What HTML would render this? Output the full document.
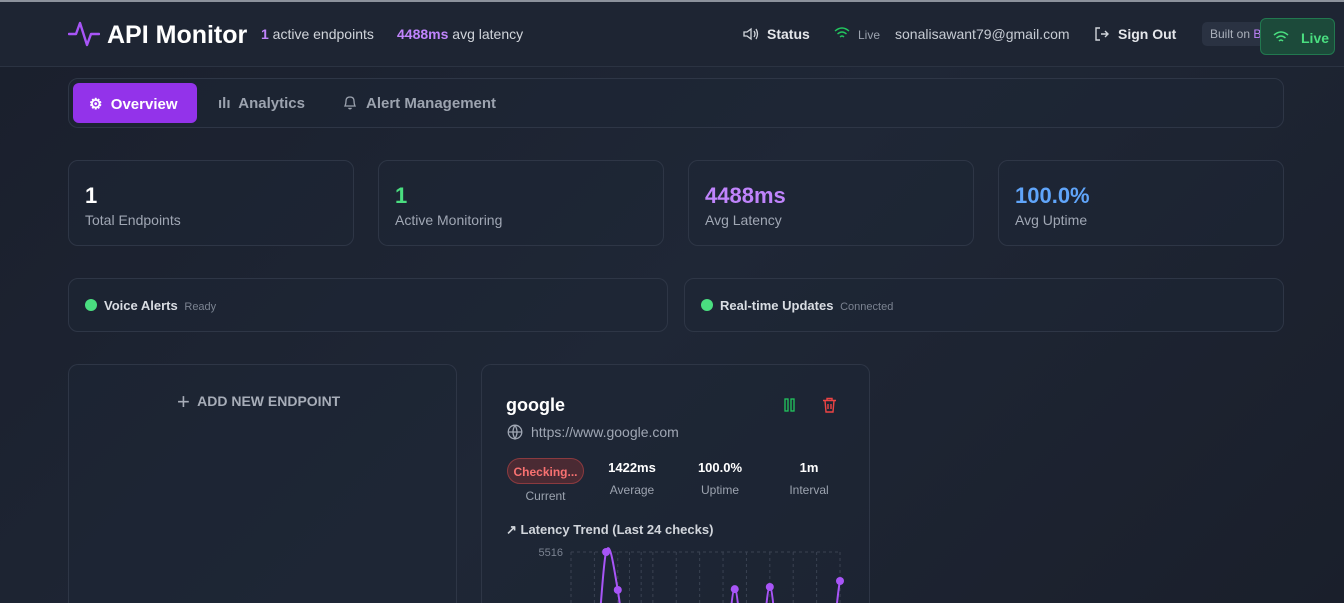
<!DOCTYPE html>
<html><head><meta charset="utf-8"><style>
*{box-sizing:border-box;margin:0;padding:0}
html{width:1344px;height:603px;overflow:hidden}
body{width:1344px;height:603px;overflow:hidden;position:relative;font-family:"Liberation Sans",sans-serif;background:linear-gradient(135deg,#1a1f2c 0%,#1f2736 50%,#1a1f2b 100%);color:#e5e7eb}
.a{position:absolute}
.card{position:absolute;border:1px solid #2e3646;border-radius:10px;background:rgba(30,38,52,0.55)}
.open{border-bottom:none;border-radius:10px 10px 0 0}
.big{font-size:22px;font-weight:bold}
.lbl{font-size:14px;color:#a0a7b4}
</style></head><body>
<div class="a" style="left:0;top:0;width:1344px;height:2px;background:#8c929c"></div>
<div class="a" style="left:0;top:2px;width:1344px;height:65px;background:#1e2533;border-bottom:1px solid #2b3342"></div>
<svg class="a" style="left:68px;top:20px" width="32" height="28" viewBox="0 0 32 28"><polyline points="1,14 8,14 12,3 19,25 23,14 31,14" fill="none" stroke="#a855f7" stroke-width="2.4" stroke-linejoin="round" stroke-linecap="round"/></svg>
<div class="a" style="left:107px;top:21px;font-size:25px;font-weight:bold;color:#fff">API Monitor</div>
<div class="a" style="left:261px;top:26px;font-size:14px;color:#d1d5db"><b style="color:#c084fc">1</b> active endpoints</div>
<div class="a" style="left:397px;top:26px;font-size:14px;color:#d1d5db"><b style="color:#c084fc">4488ms</b> avg latency</div>
<svg class="a" style="left:743px;top:27px" width="16" height="14" viewBox="0 0 16 14"><path d="M1,5 H4 L8,2 V12 L4,9 H1 Z M11,4 Q13,7 11,10 M13,2 Q16,7 13,12" fill="none" stroke="#d1d5db" stroke-width="1.3"/></svg>
<div class="a" style="left:767px;top:26px;font-size:14px;font-weight:bold;color:#e5e7eb">Status</div>
<svg class="a" style="left:834px;top:27px" width="16" height="13" viewBox="0 0 16 13"><path d="M1,4 Q8,-2 15,4 M3.5,7 Q8,3 12.5,7 M6,10 Q8,8 10,10" fill="none" stroke="#22c55e" stroke-width="1.4"/></svg>
<div class="a" style="left:858px;top:28px;font-size:12px;color:#9ca3af">Live</div>
<div class="a" style="left:895px;top:26px;font-size:14px;color:#c7ccd4">sonalisawant79@gmail.com</div>
<svg class="a" style="left:1094px;top:26px" width="16" height="16" viewBox="0 0 16 16"><path d="M6,2 H2 V14 H6 M7,8 H14 M11,5 L14,8 L11,11" fill="none" stroke="#d1d5db" stroke-width="1.4"/></svg>
<div class="a" style="left:1118px;top:26px;font-size:14px;font-weight:bold;color:#e5e7eb">Sign Out</div>
<div class="a" style="left:1202px;top:22px;width:70px;height:24px;background:#2a3242;border-radius:5px;font-size:12px;color:#aab0bb;padding:5px 8px;white-space:nowrap;overflow:hidden">Built on <span style="color:#c084fc">B</span></div>
<div class="a" style="left:1260px;top:18px;width:75px;height:37px;background:#1c4a3a;border:1px solid #22784f;border-radius:6px;font-size:14px;font-weight:bold;color:#4ade80;padding:11px 0 0 40px">Live</div>
<svg class="a" style="left:1273px;top:31px" width="16" height="13" viewBox="0 0 16 13"><path d="M1,4 Q8,-2 15,4 M3.5,7 Q8,3 12.5,7 M6,10 Q8,8 10,10" fill="none" stroke="#4ade80" stroke-width="1.5"/></svg>

<div class="card" style="left:68px;top:78px;width:1216px;height:50px"></div>
<div class="a" style="left:73px;top:83px;width:124px;height:40px;background:#9333ea;border-radius:6px;color:#fff;font-size:15px;font-weight:bold;padding:12px 0 0 16px">⚙&nbsp; Overview</div>
<div class="a" style="left:218px;top:95px;font-size:15px;font-weight:bold;color:#9ca3af">ılı&nbsp; Analytics</div>
<svg class="a" style="left:343px;top:95px" width="14" height="15" viewBox="0 0 14 15"><path d="M2,11 Q3,9 3,6 Q3,2 7,2 Q11,2 11,6 Q11,9 12,11 Z M5.5,13 Q7,14.5 8.5,13" fill="none" stroke="#9ca3af" stroke-width="1.3"/></svg>
<div class="a" style="left:366px;top:95px;font-size:15px;font-weight:bold;color:#9ca3af">Alert Management</div>

<div class="card" style="left:68px;top:160px;width:286px;height:86px"><div class="a big" style="left:16px;top:22px;color:#fff">1</div><div class="a lbl" style="left:16px;top:51px">Total Endpoints</div></div>
<div class="card" style="left:378px;top:160px;width:286px;height:86px"><div class="a big" style="left:16px;top:22px;color:#4ade80">1</div><div class="a lbl" style="left:16px;top:51px">Active Monitoring</div></div>
<div class="card" style="left:688px;top:160px;width:286px;height:86px"><div class="a big" style="left:16px;top:22px;color:#c084fc">4488ms</div><div class="a lbl" style="left:16px;top:51px">Avg Latency</div></div>
<div class="card" style="left:998px;top:160px;width:286px;height:86px"><div class="a big" style="left:16px;top:22px;color:#60a5fa">100.0%</div><div class="a lbl" style="left:16px;top:51px">Avg Uptime</div></div>

<div class="card" style="left:68px;top:278px;width:600px;height:54px"><div class="a" style="left:16px;top:20px;width:12px;height:12px;border-radius:6px;background:#4ade80"></div><div class="a" style="left:35px;top:19px;font-size:13px;font-weight:bold;color:#d9dde3">Voice Alerts <span style="font-weight:normal;font-size:11px;color:#7b8391">&nbsp;Ready</span></div></div>
<div class="card" style="left:684px;top:278px;width:600px;height:54px"><div class="a" style="left:16px;top:20px;width:12px;height:12px;border-radius:6px;background:#4ade80"></div><div class="a" style="left:35px;top:19px;font-size:13px;font-weight:bold;color:#d9dde3">Real-time Updates <span style="font-weight:normal;font-size:11px;color:#7b8391">&nbsp;Connected</span></div></div>

<div class="card open" style="left:68px;top:364px;width:389px;height:239px"><div class="a" style="left:108px;top:24px;font-size:14px;font-weight:bold;color:#a7adb8;white-space:nowrap"><span style="font-size:22px;font-weight:normal;vertical-align:-3px">+</span>&nbsp; ADD NEW ENDPOINT</div></div>

<div class="card open" style="left:481px;top:364px;width:389px;height:239px">
<div class="a" style="left:24px;top:30px;font-size:18px;font-weight:bold;color:#fff">google</div>
<svg class="a" style="left:302px;top:33px" width="11" height="14" viewBox="0 0 11 14"><rect x="1" y="1" width="3" height="12" fill="none" stroke="#22c55e" stroke-width="1.3"/><rect x="7" y="1" width="3" height="12" fill="none" stroke="#22c55e" stroke-width="1.3"/></svg>
<svg class="a" style="left:340px;top:32px" width="15" height="16" viewBox="0 0 15 16"><path d="M1,3.5 H14 M5,3.5 V1.5 H10 V3.5 M3,3.5 L4,15 H11 L12,3.5 M6,7 V12 M9,7 V12" fill="none" stroke="#ef4444" stroke-width="1.4"/></svg>
<svg class="a" style="left:25px;top:59px" width="16" height="16" viewBox="0 0 16 16"><circle cx="8" cy="8" r="6.8" fill="none" stroke="#a0a7b4" stroke-width="1.3"/><path d="M1.2,8 H14.8 M8,1.2 Q4,8 8,14.8 Q12,8 8,1.2" fill="none" stroke="#a0a7b4" stroke-width="1.3"/></svg>
<div class="a" style="left:49px;top:59px;font-size:14px;color:#a0a7b4">https://www.google.com</div>
<div class="a" style="left:25px;top:93px;width:77px;height:26px;border:1px solid #8b3a3f;background:#4a2a33;border-radius:13px;color:#f87171;font-size:12px;font-weight:bold;text-align:center;padding-top:6px">Checking...</div>
<div class="a" style="left:25px;top:124px;width:77px;text-align:center;font-size:12px;color:#9ca3af">Current</div>
<div class="a" style="left:110px;top:95px;width:80px;text-align:center;font-size:13px;font-weight:bold;color:#fff">1422ms</div>
<div class="a" style="left:110px;top:118px;width:80px;text-align:center;font-size:12px;color:#9ca3af">Average</div>
<div class="a" style="left:198px;top:95px;width:80px;text-align:center;font-size:13px;font-weight:bold;color:#fff">100.0%</div>
<div class="a" style="left:198px;top:118px;width:80px;text-align:center;font-size:12px;color:#9ca3af">Uptime</div>
<div class="a" style="left:287px;top:95px;width:80px;text-align:center;font-size:13px;font-weight:bold;color:#fff">1m</div>
<div class="a" style="left:287px;top:118px;width:80px;text-align:center;font-size:12px;color:#9ca3af">Interval</div>
<div class="a" style="left:24px;top:157px;font-size:13px;font-weight:bold;color:#d1d5db">↗ Latency Trend (Last 24 checks)</div>
</div>

<svg id="chart" class="a" style="left:0;top:0" width="1344" height="603"></svg>
<script>
const latency=[620,580,900,5516,4120,700,560,600,540,620,580,600,560,640,4150,620,580,4230,600,560,620,580,640,4450];
const gridIdx=[0,2,4,5,6,7,9,11,13,15,17,19,21,23];
const yTicks=[5516];
const X0=571,X1=840,YT=552,YB=702,YMAX=5516;
const x=i=>X0+(X1-X0)*i/(latency.length-1);
const y=v=>YB-(YB-YT)*v/YMAX;
const svg=document.getElementById('chart');const NS='http://www.w3.org/2000/svg';
function mk(t,a){const e=document.createElementNS(NS,t);for(const k in a)e.setAttribute(k,a[k]);svg.appendChild(e);return e;}
const h=mk('line',{x1:X0,x2:X1,y1:y(yTicks[0]),y2:y(yTicks[0]),stroke:'#3a4252','stroke-dasharray':'3 3'});


gridIdx.forEach(i=>{const g=mk('line',{x1:x(i),x2:x(i),y1:YT,y2:YB,stroke:'#3a4252','stroke-dasharray':'3 3'});

});
yTicks.forEach(v=>{const t=mk('text',{x:X0-8,y:y(v)+4,'text-anchor':'end','font-size':'11','fill':'#7b8391','font-family':'Liberation Sans, sans-serif'});t.textContent=v;

});
let d='M'+x(0)+','+y(latency[0]);
for(let i=0;i<latency.length-1;i++){const p0=latency[Math.max(i-1,0)],p1=latency[i],p2=latency[i+1],p3=latency[Math.min(i+2,latency.length-1)];
const dx=(X1-X0)/(latency.length-1);
d+=' C'+(x(i)+dx/3)+','+y(p1+(p2-p0)/6)+' '+(x(i+1)-dx/3)+','+y(p2-(p3-p1)/6)+' '+x(i+1)+','+y(p2);}
const ln=mk('path',{d:d,fill:'none',stroke:'#a855f7','stroke-width':'2'});


latency.forEach((v,i)=>{const c=mk('circle',{cx:x(i),cy:y(v),r:4,fill:'#a855f7'});

});
</script>
</body></html>
